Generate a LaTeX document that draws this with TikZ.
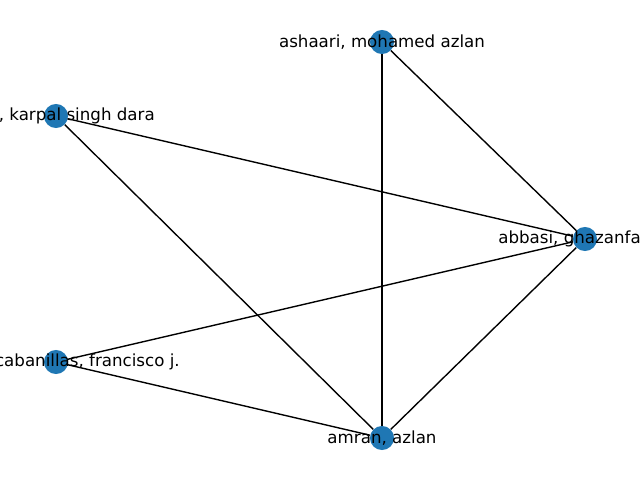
\documentclass[tikz,border=0pt]{standalone}
\usepackage{fontspec}
\setmainfont{DejaVu Sans}
\usetikzlibrary{backgrounds}
\definecolor{nxblue}{HTML}{1F77B4}

\begin{document}
\begin{tikzpicture}[x=0.72pt,y=-0.72pt]
  \tikzset{myvertex/.style={circle, fill=nxblue, inner sep=0pt, minimum size=17.3pt}};
  \tikzset{myedge/.style={draw=black, line width=1pt}};
  \tikzset{mylabel/.style={inner sep=0pt, font=\fontsize{12pt}{14pt}\selectfont}};
  \useasboundingbox (0,0) rectangle (640,480);
  \clip (0,0) rectangle (640,480);

  \node[myvertex] (ashaari) at (382,42) {};
  \node[myvertex] (karpal) at (56,116) {};
  \node[myvertex] (abbasi) at (585,239) {};
  \node[myvertex] (cabanillas) at (56,362) {};
  \node[myvertex] (amran) at (382,438) {};

  \begin{scope}[on background layer]
    \draw [myedge] (ashaari) -- (abbasi);
    \draw [myedge] (ashaari) -- (amran);
    \draw [myedge] (karpal) -- (abbasi);
    \draw [myedge] (karpal) -- (amran);
    \draw [myedge] (cabanillas) -- (abbasi);
    \draw [myedge] (cabanillas) -- (amran);
    \draw [myedge] (abbasi) -- (amran);
  \end{scope}

  \node [mylabel] at (ashaari) {ashaari, mohamed azlan};
  \node [mylabel, anchor=east] at (155,116) {, karpal singh dara};
  \node [mylabel, anchor=west] at (498,239) {abbasi, ghazanfar};
  \node [mylabel, anchor=east] at (180,362) {cabanillas, francisco j.};
  \node [mylabel] at (amran) {amran, azlan};
\end{tikzpicture}
\end{document}
